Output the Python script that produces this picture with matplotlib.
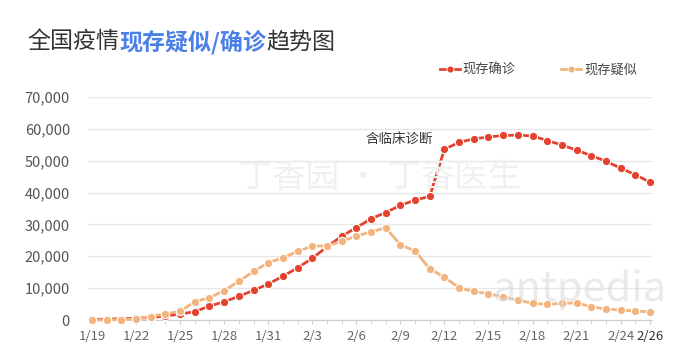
import matplotlib
matplotlib.use('Agg')
import matplotlib.pyplot as plt
from matplotlib.lines import Line2D

plt.rcParams['font.family'] = ['Noto Sans CJK SC', 'DejaVu Sans']

# dates 1/19 .. 2/26
dates = [f'1/{d}' for d in range(19, 32)] + [f'2/{d}' for d in range(1, 27)]

confirmed = [170, 260, 400, 526, 771, 1250, 1870, 2613, 4349, 5739, 7417, 9308,
             11289, 13748, 16369, 19381, 22942, 26302, 28985, 31774, 33738, 35982,
             37626, 38800, 53600, 55748, 56873, 57416, 57934, 58016, 57805, 56303,
             54965, 53284, 51606, 49824, 47672, 45604, 43258]
suspected = [0, 54, 100, 393, 1072, 1965, 2684, 5794, 6973, 9239, 12167, 15238,
             17988, 19544, 21558, 23214, 23260, 24702, 26359, 27657, 28942, 23589,
             21675, 16067, 13435, 10109, 8969, 8228, 7264, 6242, 5248, 4922,
             5206, 5365, 4148, 3434, 3113, 2824, 2491]

tick_idx = list(range(0, 37, 3)) + [38]
yticks = [0, 10000, 20000, 30000, 40000, 50000, 60000, 70000]

RED = '#e3432e'
ORANGE = '#f2b37c'
W, H = 688, 356

fig = plt.figure(figsize=(W / 100, H / 100), dpi=100)
ax = fig.add_axes([88 / W, (H - 320) / H, (652 - 88) / W, (320 - 97) / H])

x = list(range(len(dates)))
ax.plot(x, confirmed, '-o', color=RED, lw=2, ms=6, mec='white', mew=0.8,
        clip_on=False, zorder=3)
ax.plot(x, suspected, '-o', color=ORANGE, lw=2, ms=6, mec='white', mew=0.8,
        clip_on=False, zorder=4)

ax.set_xlim(-4 / 14.68, 38 + 2 / 14.68)
ax.set_ylim(0, 70000)
ax.set_yticks(yticks)
ax.set_yticklabels([f'{v:,}' for v in yticks], fontsize=10.5, color='#555555')
ax.tick_params(axis='y', length=0, pad=13)
ax.grid(axis='y', color='#e6e6e6', lw=1)
ax.set_axisbelow(True)

ax.set_xticks(x, minor=True)
ax.set_xticks(tick_idx)
ax.set_xticklabels([dates[i] for i in tick_idx], fontsize=9.5, color='#666666')
ax.get_xticklabels()[-1].set_color('#333333')
ax.tick_params(axis='x', which='both', length=3, color='#cccccc', pad=4)

for s in ['top', 'right', 'left']:
    ax.spines[s].set_visible(False)
ax.spines['bottom'].set_color('#cccccc')

ax.annotate('含临床诊断', xy=(24, confirmed[24]), xytext=(399 / W, (H - 139) / H),
            textcoords='figure fraction', ha='center', va='center',
            fontsize=9.7, color='#333333')

# watermarks
fig.text(380 / W, (H - 178) / H, '丁香园 · 丁香医生', fontsize=24, color='#f0f0f0',
         ha='center', va='center', zorder=0, style='italic')
fig.text(580 / W, (H - 290) / H, 'antpedia', fontsize=30, color='#dddddd',
         ha='center', va='center', alpha=0.6, zorder=0)

# title in three colored pieces
renderer = fig.canvas.get_renderer()
tx = 27 / W
for part, col, wt in [('全国疫情', '#333333', 'normal'),
                      ('现存疑似/确诊', '#4a80e8', 'bold'),
                      ('趋势图', '#333333', 'normal')]:
    t = fig.text(tx, (H - 42) / H, part, fontsize=16.6, color=col, weight=wt,
                 va='center', ha='left')
    bb = t.get_window_extent(renderer)
    tx = bb.x1 / W

handles = [Line2D([], [], color=RED, lw=2, marker='o', ms=5, mec='white', mew=0.6),
           Line2D([], [], color=ORANGE, lw=2, marker='o', ms=5, mec='white', mew=0.6)]
fig.legend(handles, ['现存确诊', '现存疑似'], ncol=2, frameon=False,
           loc='center left', bbox_to_anchor=(428 / W, (H - 70) / H),
           fontsize=9.5, handlelength=1.5, handletextpad=0.2, columnspacing=3.5,
           labelcolor='#444444')

fig.savefig('out.png', dpi=100, facecolor='white')
